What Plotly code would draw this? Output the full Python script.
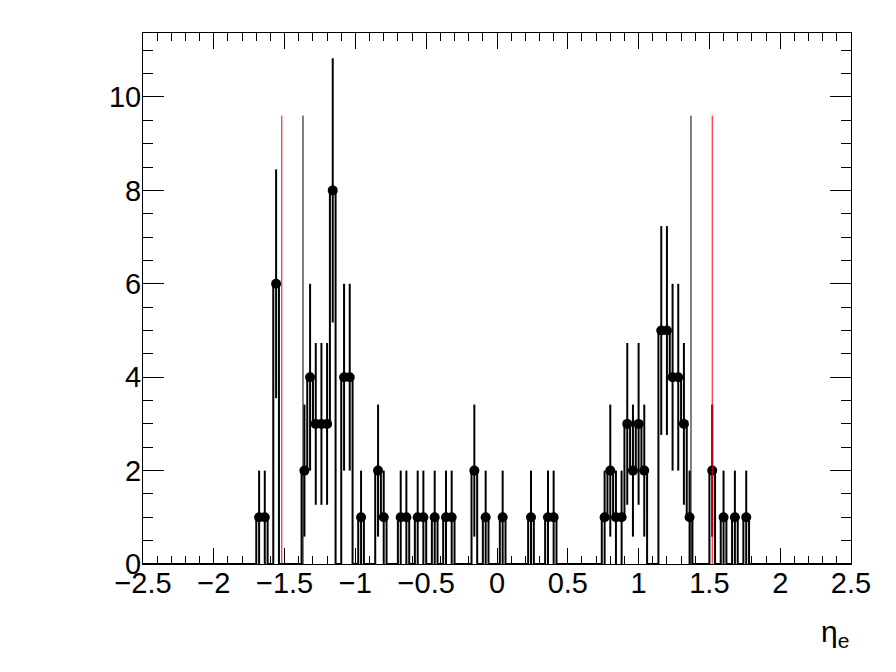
#!/usr/bin/env python
# -*- coding: utf-8 -*-
"""
Electron eta distribution with ATLAS crack region markers.
"""

import numpy as np
import plotly.graph_objects as go

# Binning of the histogram
n_bins = 125
eta_lo = -2.5
eta_hi = 2.5

# Non-empty bins (bin centre, entries)
eta_centres = [-1.68, -1.64, -1.56, -1.36, -1.32, -1.28, -1.24, -1.20, -1.16,
               -1.08, -1.04, -0.96, -0.84, -0.80, -0.68, -0.64, -0.56, -0.52,
               -0.44, -0.36, -0.32, -0.16, -0.08, 0.04, 0.24, 0.36, 0.40,
               0.76, 0.80, 0.84, 0.88, 0.92, 0.96, 1.00, 1.04, 1.16, 1.20,
               1.24, 1.28, 1.32, 1.36, 1.52, 1.60, 1.68, 1.76]
entries = [1, 1, 6, 2, 4, 3, 3, 3, 8,
           4, 4, 1, 2, 1, 1, 1, 1, 1,
           1, 1, 1, 2, 1, 1, 1, 1, 1,
           1, 2, 1, 1, 3, 2, 3, 2, 5, 5,
           4, 4, 3, 1, 2, 1, 1, 1]

# Crack region boundaries
crack_inner = [-1.37, 1.37]
crack_outer = [-1.52, 1.52]
crack_line_top = 9.6

y_max = 11.37

# Full histogram contents for the step outline
edges = np.linspace(eta_lo, eta_hi, n_bins + 1)
width = (eta_hi - eta_lo) / n_bins
counts = np.zeros(n_bins)
for c, n in zip(eta_centres, entries):
    counts[int(round((c - eta_lo) / width - 0.5))] = n

fig = go.Figure()

# Step outline (HIST)
fig.add_trace(go.Scatter(
    x=edges, y=np.append(counts, counts[-1]),
    mode="lines", line=dict(color="black", width=2, shape="hv"),
    hoverinfo="skip", showlegend=False,
))

# Points with sqrt(N) errors
fig.add_trace(go.Scatter(
    x=eta_centres, y=entries,
    mode="markers",
    marker=dict(color="black", size=10, symbol="circle"),
    error_y=dict(type="data", array=np.sqrt(entries), width=0,
                 thickness=2, color="black"),
    showlegend=False,
))

# Crack region lines
for x in crack_inner:
    fig.add_trace(go.Scatter(x=[x, x], y=[0, crack_line_top], mode="lines",
                             line=dict(color="black", width=1),
                             hoverinfo="skip", showlegend=False))
for x in crack_outer:
    fig.add_trace(go.Scatter(x=[x, x], y=[0, crack_line_top], mode="lines",
                             line=dict(color="red", width=1),
                             hoverinfo="skip", showlegend=False))

axis_font = dict(family="Liberation Sans, Arial, sans-serif", size=29, color="black")

fig.update_xaxes(
    range=[eta_lo, eta_hi], tick0=-2.5, dtick=0.5,
    ticks="inside", ticklen=16, tickwidth=1, tickcolor="black",
    minor=dict(dtick=0.1, ticks="inside", ticklen=8, tickwidth=1, tickcolor="black"),
    showline=True, linecolor="black", linewidth=1, mirror="ticks",
    showgrid=False, zeroline=False, tickfont=axis_font,
    ticklabelstandoff=-7,
)
fig.update_yaxes(
    range=[0, y_max], tick0=0, dtick=2,
    ticks="inside", ticklen=21, tickwidth=1, tickcolor="black",
    minor=dict(dtick=0.5, ticks="inside", ticklen=10, tickwidth=1, tickcolor="black"),
    showline=True, linecolor="black", linewidth=1, mirror="ticks",
    showgrid=False, zeroline=False, tickfont=axis_font,
    ticklabelstandoff=-5,
)

fig.add_annotation(
    text="η<sub>e</sub>", xref="paper", yref="paper",
    x=1.0, y=-0.13, xanchor="right", yanchor="middle", showarrow=False,
    font=dict(family="Liberation Sans, Arial, sans-serif", size=30, color="black"),
)

# page body has an 8 px margin, so shrink the figure to keep the frame in place
fig.update_layout(
    width=888, height=664,
    margin=dict(l=135, r=45, t=25, b=108),
    paper_bgcolor="white", plot_bgcolor="white",
)

fig.write_html("out.html")
